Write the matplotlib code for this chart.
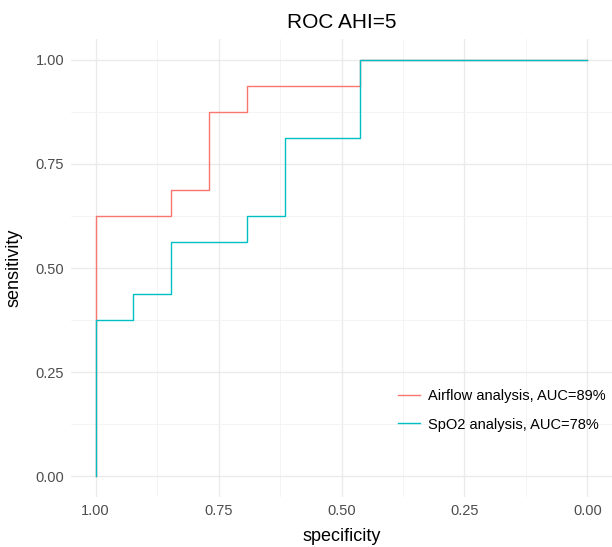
#!/usr/bin/env python3
import matplotlib
matplotlib.use("Agg")
import matplotlib.pyplot as plt
import numpy as np

# ROC curve points (specificity, sensitivity)
air_spec = [1.0, 1.0, 0.846, 0.846, 0.769, 0.769, 0.692, 0.692, 0.462, 0.462, 0.0]
air_sens = [0.0, 0.625, 0.625, 0.6875, 0.6875, 0.875, 0.875, 0.9375, 0.9375, 1.0, 1.0]
spo2_spec = [1.0, 1.0, 0.923, 0.923, 0.846, 0.846, 0.692, 0.692, 0.615, 0.615,
             0.462, 0.462, 0.0]
spo2_sens = [0.0, 0.375, 0.375, 0.4375, 0.4375, 0.5625, 0.5625, 0.625, 0.625,
             0.8125, 0.8125, 1.0, 1.0]
labels = ["Airflow analysis, AUC=89%", "SpO2 analysis, AUC=78%"]
ticks = [1.00, 0.75, 0.50, 0.25, 0.00]

plt.rcParams['font.family'] = ['Liberation Sans', 'DejaVu Sans']

fig = plt.figure(figsize=(6.12, 5.47), dpi=100)
ax = fig.add_axes([71/612, 1 - 497/547, 541/612, 458/547])

ax.plot(air_spec, air_sens, color="#F8766D", lw=1.0, label=labels[0])
ax.plot(spo2_spec, spo2_sens, color="#00BFC4", lw=1.0, label=labels[1])

ax.set_xlim(1.05, -0.05)
ax.set_ylim(-0.05, 1.05)
ax.set_xticks(ticks)
ax.set_xticklabels(["%.2f" % t for t in ticks])
ax.set_yticks(ticks)
ax.set_yticklabels(["%.2f" % t for t in ticks])
ax.set_xticks(np.arange(0.125, 1.0, 0.25), minor=True)
ax.set_yticks(np.arange(0.125, 1.0, 0.25), minor=True)
ax.grid(True, which="major", color="#EBEBEB", lw=1.0)
ax.grid(True, which="minor", color="#F3F3F3", lw=0.6)
ax.set_axisbelow(True)
for s in ax.spines.values():
    s.set_visible(False)
ax.tick_params(which="both", length=0, labelsize=10.5, colors="#4D4D4D", pad=5)

ax.set_xlabel("specificity", fontsize=13, color="black", labelpad=7)
ax.set_ylabel("sensitivity", fontsize=13, color="black", labelpad=9)
ax.set_title("ROC AHI=5", fontsize=15, pad=8)

ax.legend(loc="upper left", frameon=False, fontsize=10.5, handlelength=1.5,
          handletextpad=0.55, borderpad=0, borderaxespad=0, labelspacing=1.0,
          bbox_to_anchor=(398/612, 1 - 389/547), bbox_transform=fig.transFigure)

fig.savefig("out.png", dpi=100)
